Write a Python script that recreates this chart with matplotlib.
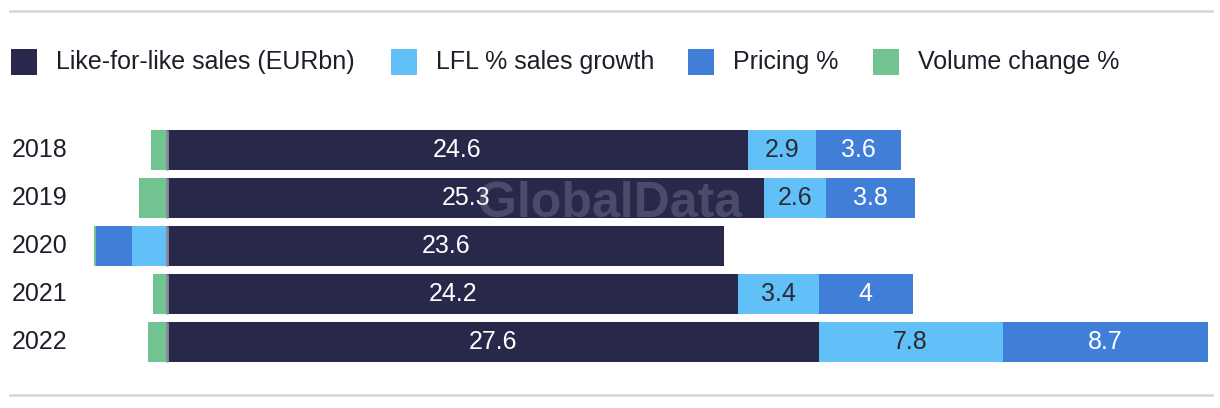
import matplotlib
matplotlib.use("Agg")
import matplotlib.pyplot as plt
from matplotlib.patches import Rectangle
from matplotlib.lines import Line2D
import matplotlib.transforms as mtransforms

plt.rcParams['font.family'] = ['Liberation Sans', 'DejaVu Sans']

years = ["2018", "2019", "2020", "2021", "2022"]
lfl_sales = [24.6, 25.3, 23.6, 24.2, 27.6]
lfl_growth = [2.9, 2.6, -1.5, 3.4, 7.8]
pricing = [3.6, 3.8, -1.5, 4.0, 8.7]
volume = [-0.7, -1.2, -0.1, -0.6, -0.8]

series_names = ["Like-for-like sales (EURbn)", "LFL % sales growth", "Pricing %", "Volume change %"]
series_values = [lfl_sales, lfl_growth, pricing, volume]
colors = ["#28284b", "#62c0f9", "#407ed7", "#72c392"]
label_colors = ["white", "#2b2b33", "white", "white"]

W, H = 1220, 408
fig = plt.figure(figsize=(W / 100, H / 100), dpi=100)
ax = fig.add_axes([94 / W, 1 - 366 / H, (1208 - 94) / W, 240 / H])

bar_h = 40 / 48
n = len(years)
pos_left = [0.0] * n
neg_left = [0.0] * n
for vals, col, lc in zip(series_values, colors, label_colors):
    lefts = []
    for i, v in enumerate(vals):
        if v >= 0:
            lefts.append(pos_left[i])
            pos_left[i] += v
        else:
            lefts.append(neg_left[i])
            neg_left[i] += v
    ax.barh(range(n), vals, left=lefts, height=bar_h, color=col, edgecolor='none', zorder=2)
    for i, v in enumerate(vals):
        if abs(v) >= 2:
            ax.text(lefts[i] + v / 2, i, f"{v:g}", ha='center', va='center',
                    color=lc, fontsize=18, zorder=11)

xmin = min(neg_left)
xmax = max(pos_left)
ax.set_xlim(xmin, xmax)
ax.set_ylim(n - 0.5, -0.5)
ax.vlines([0] * n, [i - bar_h / 2 for i in range(n)], [i + bar_h / 2 for i in range(n)],
          color='#8a8a9c', lw=2, zorder=3)
ax.axis('off')

trans = mtransforms.blended_transform_factory(fig.transFigure, ax.transData)
for i, y in enumerate(years):
    ax.text(12 / W, i, y, transform=trans, ha='left', va='center', fontsize=18, color='#1e1e2a')

# legend
leg_sq = [11, 391, 688, 873]
for x0, name, col in zip(leg_sq, series_names, colors):
    fig.add_artist(Rectangle((x0 / W, 1 - 75 / H), 26 / W, 26 / H, transform=fig.transFigure,
                             color=col, lw=0))
    fig.text((x0 + 45) / W, 1 - 62 / H, name, ha='left', va='center', fontsize=18, color='#1e1e2a')

# separators
for yy in (11, 395):
    fig.add_artist(Line2D([10 / W, 1212 / W], [1 - yy / H, 1 - yy / H], transform=fig.transFigure,
                          color='#d9d9d9', lw=2))

# watermark
fig.text(610 / W, 1 - 204 / H, "GlobalData", ha='center', va='center', fontsize=36,
         fontweight='bold', color='#c8c8d8', alpha=0.22, zorder=10)

fig.savefig("out.png", dpi=100)
